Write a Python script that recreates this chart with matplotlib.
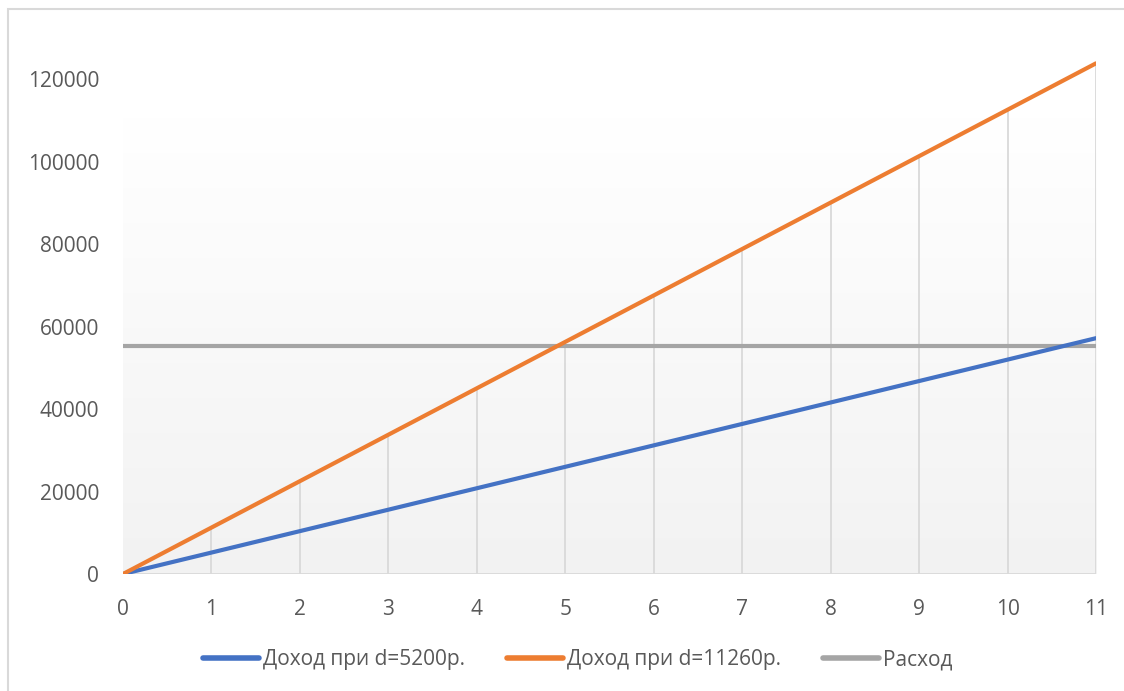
import numpy as np
import matplotlib.pyplot as plt
from matplotlib.colors import LinearSegmentedColormap
from matplotlib.patches import Rectangle

plt.rcParams['font.family'] = ['Open Sans', 'DejaVu Sans']

# data
months = [0, 1, 2, 3, 4, 5, 6, 7, 8, 9, 10, 11]
income_low = [0, 5200, 10400, 15600, 20800, 26000, 31200, 36400, 41600, 46800, 52000, 57200]
income_high = [0, 11260, 22520, 33780, 45040, 56300, 67560, 78820, 90080, 101340, 112600, 123860]
expense = [55200, 55200, 55200, 55200, 55200, 55200, 55200, 55200, 55200, 55200, 55200, 55200]
labels = ["Доход при d=5200р.", "Доход при d=11260р.", "Расход"]
y_ticks = [0, 20000, 40000, 60000, 80000, 100000, 120000]

fig = plt.figure(figsize=(11.24, 6.91), dpi=100)
ax = fig.add_axes([0.1094, 0.1693, 0.8657, 0.7757])

# border around chart area
fig.patches.append(Rectangle((8 / 1124, -0.1), 1.2, 1 - 9 / 691 + 0.1,
                             transform=fig.transFigure, fill=False,
                             edgecolor="#d9d9d9", lw=1.5))

# gradient plot area, white on top to light gray
grad = LinearSegmentedColormap.from_list("g", [(0, "#f2f2f2"), (0.85, "#ffffff"), (1, "#ffffff")])
ax.imshow(np.linspace(0, 1, 256).reshape(-1, 1), cmap=grad, aspect="auto",
          extent=[0, 11, 0, 130000], origin="lower", zorder=0)

# drop lines from the upper series
ax.vlines(months, 0, income_high, color="#d9d9d9", lw=1.3, zorder=1)
ax.axhline(0, color="#d9d9d9", lw=1.3, zorder=1)

ax.plot(months, income_low, color="#4472C4", lw=3, solid_capstyle="round", label=labels[0], zorder=3)
ax.plot(months, income_high, color="#ED7D31", lw=3, solid_capstyle="round", label=labels[1], zorder=3)
ax.plot(months, expense, color="#A5A5A5", lw=3, label=labels[2], zorder=2)

ax.set_xlim(0, 11)
ax.set_ylim(0, 130000)
ax.set_xticks(months)
ax.set_yticks(y_ticks)
for s in ax.spines.values():
    s.set_visible(False)
ax.tick_params(length=0, labelsize=15, labelcolor="#595959")
ax.tick_params(axis="y", pad=17)
ax.tick_params(axis="x", pad=18)

leg = fig.legend(loc="center", bbox_to_anchor=(0.514, 1 - 660 / 691), ncol=3,
                 frameon=False, fontsize=15, handlelength=2.7,
                 columnspacing=2.0, handletextpad=0.2)
for t in leg.get_texts():
    t.set_color("#595959")
for h in leg.legend_handles:
    h.set_linewidth(4)
    h.set_solid_capstyle("round")

fig.savefig("out.png", dpi=100)
